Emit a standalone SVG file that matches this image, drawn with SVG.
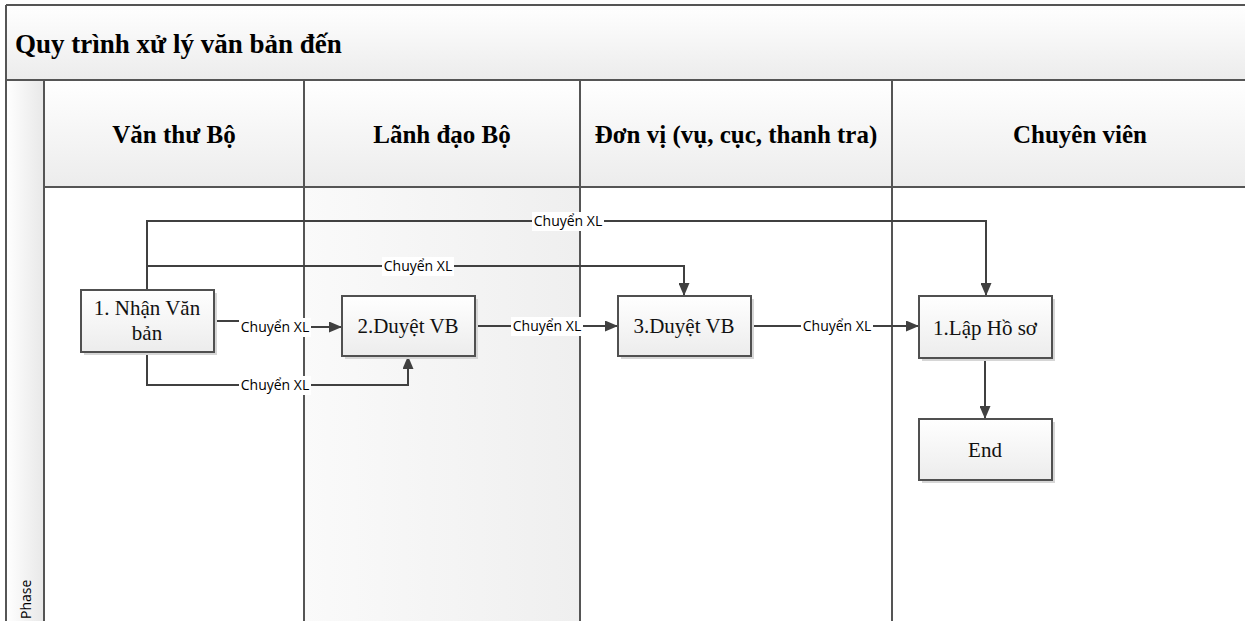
<svg xmlns="http://www.w3.org/2000/svg" width="1245" height="621" viewBox="0 0 1245 621">
<defs>
<linearGradient id="hdr" x1="0" y1="0" x2="0" y2="1"><stop offset="0" stop-color="#ffffff"/><stop offset="1" stop-color="#ececec"/></linearGradient>
<linearGradient id="node" x1="0" y1="0" x2="0" y2="1"><stop offset="0" stop-color="#ffffff"/><stop offset="1" stop-color="#ececec"/></linearGradient>
<linearGradient id="phase" x1="0" y1="0" x2="1" y2="0"><stop offset="0" stop-color="#ffffff"/><stop offset="1" stop-color="#e8e8e8"/></linearGradient>
<linearGradient id="lane2" x1="0" y1="0" x2="1" y2="0"><stop offset="0" stop-color="#fafafa"/><stop offset="1" stop-color="#efefef"/></linearGradient>
<marker id="arr" viewBox="0 0 13 11" refX="13" refY="5.5" markerWidth="13" markerHeight="11" markerUnits="userSpaceOnUse" orient="auto"><path d="M0,0 L13,5.5 L0,11 Z" fill="#404040"/></marker>
</defs>
<style>
.frame{fill:none;stroke:#555;stroke-width:2}
.title{font-family:"Liberation Serif",serif;font-weight:bold;font-size:27px;fill:#000}
.lane{font-family:"Liberation Serif",serif;font-weight:bold;font-size:25px;fill:#000;text-anchor:middle}
.box{fill:url(#node);stroke:#505050;stroke-width:2}
.shadow{fill:#d6d6d6}
.ntext{font-family:"Liberation Serif",serif;font-size:21px;fill:#111;text-anchor:middle}
.conn{fill:none;stroke:#404040;stroke-width:2}
.lbl{font-family:"Open Sans","Liberation Sans",sans-serif;font-size:14px;fill:#000;text-anchor:middle}
.lblbg{fill:#ffffff}
</style>
<rect width="1245" height="621" fill="#ffffff"/>
<g id="pool">
<rect x="6" y="5" width="1245" height="75" fill="url(#hdr)"/>
<rect x="6" y="80" width="38" height="545" fill="url(#phase)"/>
<rect x="44" y="80" width="1205" height="107" fill="url(#hdr)"/>
<rect x="304" y="187" width="276" height="440" fill="url(#lane2)"/>
<line class="frame" x1="6" y1="5" x2="1245" y2="5"/>
<line class="frame" x1="6" y1="5" x2="6" y2="621"/>
<line class="frame" x1="6" y1="80" x2="1245" y2="80"/>
<line class="frame" x1="44" y1="80" x2="44" y2="621"/>
<line class="frame" x1="44" y1="187" x2="1245" y2="187"/>
<line class="frame" x1="304" y1="80" x2="304" y2="621"/>
<line class="frame" x1="580" y1="80" x2="580" y2="621"/>
<line class="frame" x1="892" y1="80" x2="892" y2="621"/>
<text class="title" x="15" y="53">Quy trình xử lý văn bản đến</text>
<text class="lane" x="174" y="143">Văn thư Bộ</text>
<text class="lane" x="442" y="143">Lãnh đạo Bộ</text>
<text class="lane" x="736" y="143">Đơn vị (vụ, cục, thanh tra)</text>
<text class="lane" x="1080" y="143">Chuyên viên</text>
<text x="31" y="619" transform="rotate(-90 31 619)" font-family="'Open Sans','Liberation Sans',sans-serif" font-size="14" fill="#000">Phase</text>
</g>
<g id="connectors">
<path class="conn" d="M214,321 H240 V327 H342" marker-end="url(#arr)"/>
<path class="conn" d="M147,290 V221 H986 V296" marker-end="url(#arr)"/>
<path class="conn" d="M147,266 H684 V296" marker-end="url(#arr)"/>
<path class="conn" d="M147,352 V385 H408 V356" marker-end="url(#arr)"/>
<path class="conn" d="M475,326 H618" marker-end="url(#arr)"/>
<path class="conn" d="M751,326 H919" marker-end="url(#arr)"/>
<path class="conn" d="M985,358 V419" marker-end="url(#arr)"/>
<rect class="lblbg" x="239" y="318" width="72" height="19"/><text class="lbl" x="275" y="332">Chuyển XL</text>
<rect class="lblbg" x="532" y="212" width="72" height="19"/><text class="lbl" x="568" y="226">Chuyển XL</text>
<rect class="lblbg" x="382" y="257" width="72" height="19"/><text class="lbl" x="418" y="271">Chuyển XL</text>
<rect class="lblbg" x="239" y="376" width="72" height="19"/><text class="lbl" x="275" y="390">Chuyển XL</text>
<rect class="lblbg" x="511" y="317" width="72" height="19"/><text class="lbl" x="547" y="331">Chuyển XL</text>
<rect class="lblbg" x="801" y="317" width="72" height="19"/><text class="lbl" x="837" y="331">Chuyển XL</text>
</g>
<g id="n1"><rect class="shadow" x="84" y="293" width="133" height="62"/><rect class="box" x="81" y="290" width="133" height="62"/><text class="ntext" x="147" y="315">1. Nhận Văn</text><text class="ntext" x="147" y="340">bản</text></g>
<g id="n2"><rect class="shadow" x="345" y="299" width="133" height="60"/><rect class="box" x="342" y="296" width="133" height="60"/><text class="ntext" x="408" y="333">2.Duyệt VB</text></g>
<g id="n3"><rect class="shadow" x="621" y="299" width="133" height="60"/><rect class="box" x="618" y="296" width="133" height="60"/><text class="ntext" x="684" y="333">3.Duyệt VB</text></g>
<g id="n4"><rect class="shadow" x="922" y="299" width="133" height="62"/><rect class="box" x="919" y="296" width="133" height="62"/><text class="ntext" x="985" y="335">1.Lập Hồ sơ</text></g>
<g id="end"><rect class="shadow" x="922" y="422" width="133" height="61"/><rect class="box" x="919" y="419" width="133" height="61"/><text class="ntext" x="985" y="457">End</text></g>
</svg>
